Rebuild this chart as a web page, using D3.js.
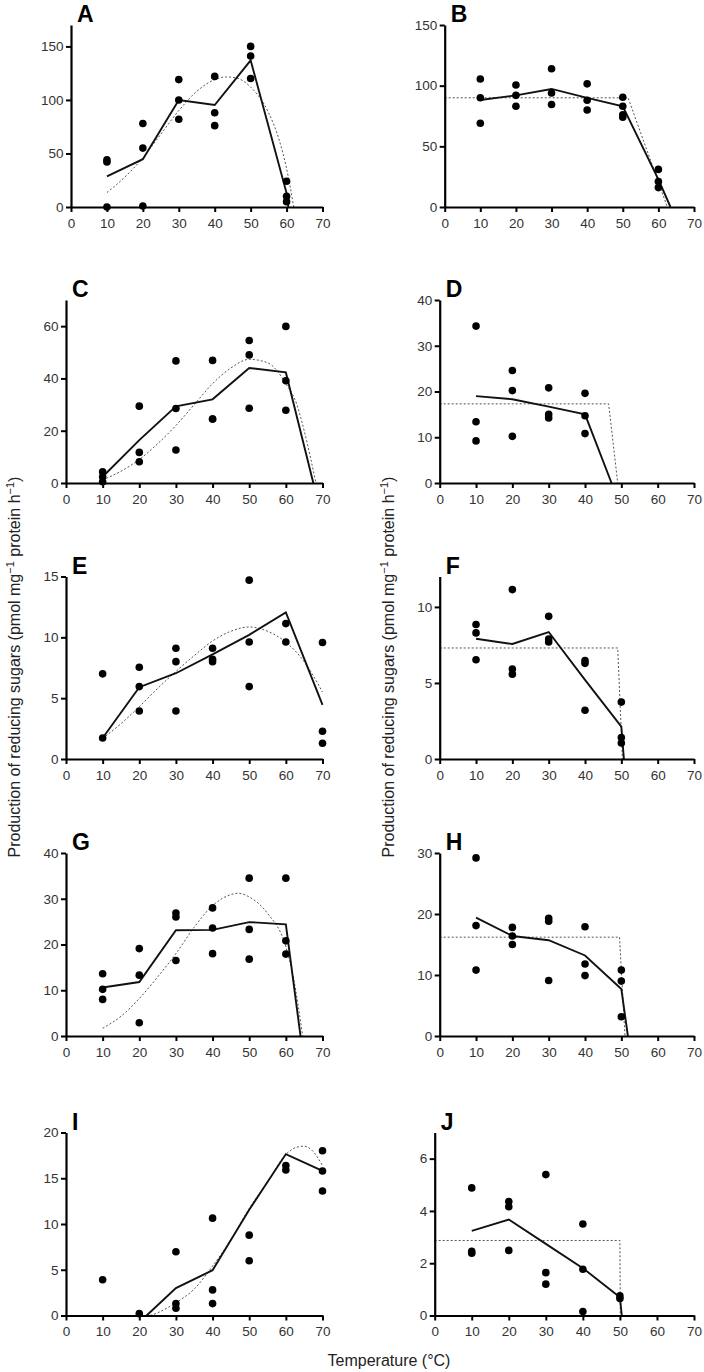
<!DOCTYPE html>
<html>
<head>
<meta charset="utf-8">
<script src="https://cdn.jsdelivr.net/npm/d3@7/dist/d3.min.js"></script>
<style>
  body { margin: 0; background: #fff; }
  text { font-family: "Liberation Sans", Arial, sans-serif; }
</style>
</head>
<body>
<script>
var w = 704,
    h = 1372;

// panel A
var A_dots = [[10,44],[10,42],[10,0],[20,78],[20,55],[20,1],[30,119],[30,100],[30,82],
  [40,122],[40,88],[40,76],[50,150],[50,141],[50,120],[60,24],[60,10],[60,5]];
var A_line = [[10,28.7],[20,44.7],[30,100],[40,95.3],[50,137],[60,13],[60.5,0]];
var A_fit = [[10,13.5],[15,28],[20,46],[25,68],[30,90],[35,108],[40,119],[43,121.5],
  [46,120.5],[50,112],[55,88],[58,62],[60,36],[62,0]];

// panel B
var B_dots = [[10,105.5],[10,90],[10,69],[20,100.5],[20,92],[20,83],[30,114],[30,94],[30,84.5],
  [40,101.5],[40,88],[40,80],[50,90.5],[50,83],[50,76],[50,74],[60,31],[60,21],[60,16]];
var B_line = [[10,88.2],[20,92],[30,97.3],[40,90],[50,83],[60,22.7],[63.4,0]];
var B_fit = [[0,90],[51.5,90],[62.5,0]];

// panel C
var C_dots = [[10,4.3],[10,2.4],[10,0.5],[20,29.4],[20,11.7],[20,8.1],[30,46.7],[30,28.5],[30,12.6],
  [40,46.9],[40,24.5],[40,24.5],[50,54.5],[50,49],[50,28.6],[60,59.9],[60,39.1],[60,27.8]];
var C_line = [[10,2.4],[20,16.4],[30,29.3],[40,32],[50,44],[60,42.3],[67.5,0]];
var C_fit = [[10,1.2],[15,4.5],[20,9],[25,15],[30,22],[35,30],[40,38],[45,44],[50,47.3],
  [55,46],[60,38],[63,30],[65,20],[68.2,0]];

// panel D
var D_dots = [[10,34.3],[10,13.4],[10,9.2],[20,24.6],[20,20.2],[20,10.2],[30,20.8],[30,15],[30,14.2],
  [40,19.6],[40,14.7],[40,10.8]];
var D_line = [[10,19],[20,18.3],[30,16.7],[40,15],[47.3,0]];
var D_fit = [[0,17.3],[46.5,17.3],[49,0]];

// panel E
var E_dots = [[10,7.0],[10,1.73],[20,7.54],[20,5.95],[20,3.95],[30,9.1],[30,8.0],[30,3.95],
  [40,9.1],[40,8.2],[40,8.0],[50,14.7],[50,9.62],[50,5.95],[60,11.13],[60,9.62],
  [70,9.57],[70,2.28],[70,1.29]];
var E_line = [[10,1.73],[20,5.9],[30,7.05],[40,8.6],[50,10.2],[60,12.05],[70,4.45]];
var E_fit = [[10,1.7],[15,2.9],[20,4.3],[25,5.8],[30,7.2],[35,8.5],[40,9.7],[45,10.5],
  [50,10.85],[55,10.5],[60,9.6],[65,8.0],[70,5.5]];

// panel F
var F_dots = [[10,8.84],[10,8.29],[10,6.53],[20,11.14],[20,5.91],[20,5.58],[30,9.38],[30,7.89],[30,7.69],
  [40,6.48],[40,6.29],[40,3.21],[50,3.74],[50,1.41],[50,1.05]];
var F_line = [[10,7.91],[20,7.56],[30,8.35],[40,5.2],[50,2.13],[50.7,0]];
var F_fit = [[0,7.3],[49,7.3],[50.3,0]];

// panel G
var G_dots = [[10,13.6],[10,10.2],[10,8.0],[20,19.1],[20,13.3],[20,2.9],[30,26.9],[30,26.0],[30,16.5],
  [40,28.0],[40,23.6],[40,18.0],[50,34.5],[50,23.3],[50,16.8],[60,34.5],[60,20.8],[60,17.9]];
var G_line = [[10,10.6],[20,11.8],[30,23.1],[40,23.2],[50,24.9],[60,24.4],[64,0]];
var G_fit = [[10,1.7],[15,4.3],[20,8.2],[25,12.9],[30,18],[35,23.8],[40,28.5],[45,30.9],
  [47,31.2],[50,30.4],[55,26.8],[60,19.5],[62,13],[64.6,0]];

// panel H
var H_dots = [[10,29.2],[10,18.1],[10,10.8],[20,17.8],[20,16.4],[20,15.0],[30,19.3],[30,18.8],[30,9.1],
  [40,17.9],[40,11.8],[40,9.9],[50,10.8],[50,9.0],[50,3.15]];
var H_line = [[10,19.4],[20,16.4],[30,15.7],[40,13.2],[50,7.7],[51.8,0]];
var H_fit = [[0,16.2],[49.5,16.2],[51,0]];

// panel I
var I_dots = [[10,3.9],[20,0.2],[30,6.96],[30,1.3],[30,0.8],[40,10.64],[40,2.8],[40,1.3],
  [50,8.78],[50,5.98],[60,16.4],[60,15.9],[70,18.0],[70,15.8],[70,13.6]];
var I_line = [[22,0],[30,3.0],[40,4.95],[50,11.55],[60,17.64],[70,15.8]];
var I_fit = [[23,0],[25,0.3],[30,1.4],[35,2.9],[40,5.4],[45,8.3],[50,11.7],[55,14.6],
  [60,17.6],[63,18.4],[65,18.5],[67,18.1],[70,16.4]];

// panel J
var J_dots = [[10,4.88],[10,2.46],[10,2.38],[20,4.36],[20,4.16],[20,2.49],[30,5.39],[30,1.64],[30,1.2],
  [40,3.5],[40,1.77],[40,0.15],[50,0.75],[50,0.65]];
var J_line = [[10,3.24],[20,3.67],[30,2.74],[40,1.81],[50,0.7],[50.5,0]];
var J_fit = [[0,2.87],[50,2.87],[50.1,0]];

// axes
var xTicks = [0, 10, 20, 30, 40, 50, 60, 70];
var yMax = [170, 150, 70, 40, 15, 12, 40, 30, 20, 7];
var yTicks = [[0,50,100,150],[0,50,100,150],[0,20,40,60],[0,10,20,30,40],[0,5,10,15],
  [0,5,10],[0,10,20,30,40],[0,10,20,30],[0,5,10,15,20],[0,2,4,6]];
var letters = ["A","B","C","D","E","F","G","H","I","J"];

var allDots = [A_dots,B_dots,C_dots,D_dots,E_dots,F_dots,G_dots,H_dots,I_dots,J_dots];
var allLines = [A_line,B_line,C_line,D_line,E_line,F_line,G_line,H_line,I_line,J_line];
var allFits = [A_fit,B_fit,C_fit,D_fit,E_fit,F_fit,G_fit,H_fit,I_fit,J_fit];

// layout
var rowTop = [25, 300, 576.5, 853, 1132.5],
    rowBottom = [207, 483, 759, 1036, 1315.5],
    colBase = [56, 429.7],
    colRight = [322.5, 694];

var svg = d3.select("body").append("svg")
  .attr("width", w)
  .attr("height", h);

letters.forEach(function(name, i) {
  var col = i % 2,
      row = Math.floor(i / 2);
  var digits = String(d3.max(yTicks[i])).length;
  var left = colBase[col] + 5 * digits;

  var x = d3.scaleLinear().domain([0, 70]).range([left, colRight[col]]);
  var y = d3.scaleLinear().domain([0, yMax[i]]).range([rowBottom[row], rowTop[row]]);

  var g = svg.append("g");

  // fitted curve (dotted)
  var fitLine = d3.line()
    .x(function(d) { return x(d[0]); })
    .y(function(d) { return y(d[1]); })
    .curve(col == 0 ? d3.curveMonotoneX : d3.curveLinear);

  g.append("path")
    .attr("d", fitLine(allFits[i]))
    .attr("fill", "none")
    .attr("stroke", "#555")
    .attr("stroke-width", 1)
    .attr("stroke-dasharray", "2,2");

  // mean line
  var meanLine = d3.line()
    .x(function(d) { return x(d[0]); })
    .y(function(d) { return y(d[1]); });

  g.append("path")
    .attr("d", meanLine(allLines[i]))
    .attr("fill", "none")
    .attr("stroke", "#111")
    .attr("stroke-width", 1.9)
    .attr("stroke-linejoin", "miter");

  g.selectAll("circle")
    .data(allDots[i])
    .enter()
    .append("circle")
    .attr("cx", function(d) { return x(d[0]); })
    .attr("cy", function(d) { return y(d[1]); })
    .attr("r", 3.8)
    .style("fill", "black");

  var xAxis = g.append("g")
    .attr("transform", "translate(0," + rowBottom[row] + ")")
    .call(d3.axisBottom(x).tickValues(xTicks).tickFormat(d3.format("d"))
      .tickSize(5).tickSizeOuter(0).tickPadding(6));

  var yAxis = g.append("g")
    .attr("transform", "translate(" + left + ",0)")
    .call(d3.axisLeft(y).tickValues(yTicks[i]).tickFormat(d3.format("d"))
      .tickSize(5).tickSizeOuter(0).tickPadding(2.5));

  [xAxis, yAxis].forEach(function(ax) {
    ax.select(".domain").attr("stroke", "#000").attr("stroke-width", 2.2);
    ax.selectAll(".tick line").attr("stroke", "#000").attr("stroke-width", 2);
    ax.selectAll(".tick text")
      .attr("fill", "#333")
      .style("font-size", "13.5px")
      .style("font-family", "'Liberation Sans', Arial, sans-serif");
  });

  g.append("text")
    .attr("x", left + 6)
    .attr("y", rowTop[row] - 3)
    .style("font-size", "23px")
    .style("font-weight", "bold")
    .text(name);
});

// axis titles
[19.5, 394].forEach(function(px) {
  var t = svg.append("text")
    .attr("transform", "translate(" + px + ",667) rotate(-90)")
    .attr("text-anchor", "middle")
    .attr("fill", "#222")
    .style("font-size", "16px");
  t.append("tspan").text("Production of reducing sugars (pmol mg");
  t.append("tspan").attr("dy", -6).style("font-size", "11px").text("\u22121");
  t.append("tspan").attr("dy", 6).text(" protein h");
  t.append("tspan").attr("dy", -6).style("font-size", "11px").text("\u22121");
  t.append("tspan").attr("dy", 6).text(")");
});

svg.append("text")
  .attr("x", 389)
  .attr("y", 1366)
  .attr("text-anchor", "middle")
  .attr("fill", "#222")
  .style("font-size", "16px")
  .text("Temperature (\u00b0C)");
</script>
</body>
</html>
